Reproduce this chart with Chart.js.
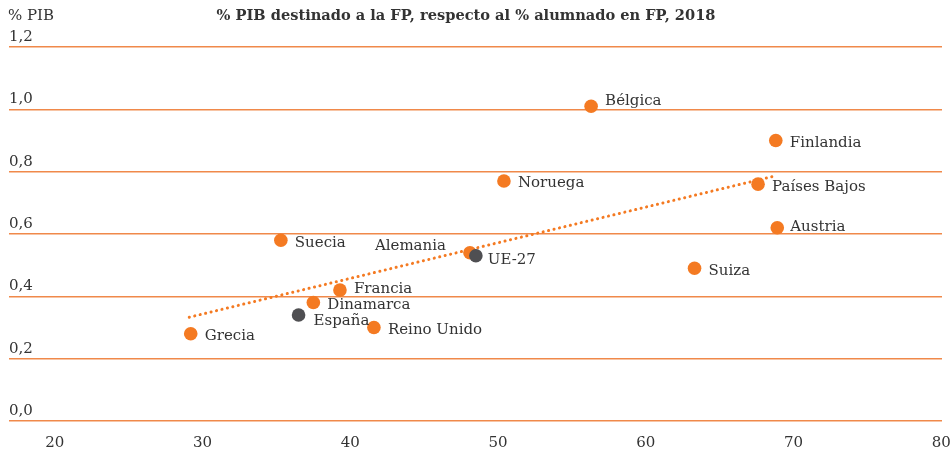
<!DOCTYPE html>
<html>
<head>
<meta charset="utf-8">
<script src="https://cdn.jsdelivr.net/npm/chart.js@4"></script>
<style>
  body { margin: 0; background: #fff; }
  #wrap { width: 952px; height: 456px; }
</style>
</head>
<body>
<div id="wrap"><canvas id="chart"></canvas></div>
<script>
// % alumnado en FP (x) y % PIB destinado a la FP (y), 2018
const countries = ['Bélgica', 'Finlandia', 'Países Bajos', 'Noruega', 'Austria', 'Suecia', 'Alemania',
  'UE-27', 'Suiza', 'Francia', 'Dinamarca', 'España', 'Reino Unido', 'Grecia'];
const pctStudents = [56.3, 68.8, 67.6, 50.4, 68.9, 35.3, 48.1, 48.5, 63.3, 39.3, 37.5, 36.5, 41.6, 29.2];
const pctGdp = [1.01, 0.90, 0.76, 0.77, 0.62, 0.58, 0.54, 0.53, 0.49, 0.42, 0.38, 0.34, 0.30, 0.28];
const greyOnes = ['España', 'UE-27'];
// tendencia lineal (extremos)
const trendX = [29.1, 68.8];
const trendY = [0.333, 0.787];
const xTicks = [20, 30, 40, 50, 60, 70, 80];

const ORANGE = '#F47A22';
const GREY = '#4F4F52';
const TEXT = '#333333';
const FONT = '"DejaVu Serif", serif';

const orangePts = [], greyPts = [];
countries.forEach(function (c, i) {
  const p = { x: pctStudents[i], y: pctGdp[i], name: c };
  (greyOnes.includes(c) ? greyPts : orangePts).push(p);
});

// where the country name goes relative to its dot
const labelPos = {
  'Bélgica': [14, -5], 'Austria': [13, -1], 'Francia': [14, -1], 'España': [15, 6],
  'UE-27': [12, 4], 'Alemania': [-24, -7, 'right']
};

const pointLabels = {
  id: 'pointLabels',
  afterDatasetsDraw(chart) {
    const ctx = chart.ctx;
    ctx.save();
    ctx.font = '15px ' + FONT;
    ctx.fillStyle = TEXT;
    ctx.textBaseline = 'middle';
    [0, 1].forEach(function (di) {
      const ds = chart.data.datasets[di];
      chart.getDatasetMeta(di).data.forEach(function (el, i) {
        const name = ds.data[i].name;
        const o = labelPos[name] || [14, 2.5];
        ctx.textAlign = o[2] || 'left';
        ctx.fillText(name, el.x + o[0], el.y + o[1]);
      });
    });
    ctx.restore();
  }
};

const titles = {
  id: 'titles',
  afterDraw(chart) {
    const ctx = chart.ctx;
    ctx.save();
    ctx.fillStyle = TEXT;
    ctx.textBaseline = 'middle';
    ctx.textAlign = 'left';
    ctx.font = '15px ' + FONT;
    ctx.fillText('% PIB', 8, 16);
    ctx.textAlign = 'center';
    ctx.font = 'bold 14.6px ' + FONT;
    ctx.fillText('% PIB destinado a la FP, respecto al % alumnado en FP, 2018', 466, 16);
    ctx.restore();
  }
};

const ctx = document.getElementById('chart').getContext('2d');
const myChart = new Chart(ctx, {
  type: 'scatter',
  data: {
    datasets: [
      { data: orangePts, backgroundColor: ORANGE, borderWidth: 0, pointRadius: 6.8, order: 1 },
      { data: greyPts, backgroundColor: GREY, borderWidth: 0, pointRadius: 6.8, order: 0 },
      {
        type: 'line',
        data: trendX.map(function (x, i) { return { x: x, y: trendY[i] }; }),
        borderColor: ORANGE,
        borderWidth: 3,
        borderDash: [0.1, 5.5],
        borderCapStyle: 'round',
        pointRadius: 0,
        fill: false,
        order: 2
      }
    ]
  },
  options: {
    responsive: true,
    maintainAspectRatio: false,
    animation: false,
    layout: { padding: { top: 47, left: 9, right: 10, bottom: 0 } },
    plugins: { legend: { display: false }, tooltip: { enabled: false } },
    scales: {
      x: {
        type: 'linear',
        min: 16.9,
        max: 80.05,
        afterBuildTicks: function (scale) { scale.ticks = xTicks.map(function (v) { return { value: v }; }); },
        afterFit: function (scale) { scale.height = 35; scale.paddingLeft = 0; scale.paddingRight = 0; },
        grid: { display: false, drawTicks: false },
        border: { display: false },
        ticks: { color: TEXT, font: { family: FONT, size: 15 }, padding: 13, maxRotation: 0 }
      },
      y: {
        min: 0,
        max: 1.2,
        grid: { color: '#F0894A', lineWidth: 1.6, drawTicks: false },
        border: { display: false },
        ticks: {
          stepSize: 0.2,
          mirror: true,
          padding: 0,
          labelOffset: -10,
          color: TEXT,
          font: { family: FONT, size: 15 },
          callback: function (v) { return v.toFixed(1).replace('.', ','); }
        }
      }
    }
  },
  plugins: [pointLabels, titles]
});
</script>
</body>
</html>
